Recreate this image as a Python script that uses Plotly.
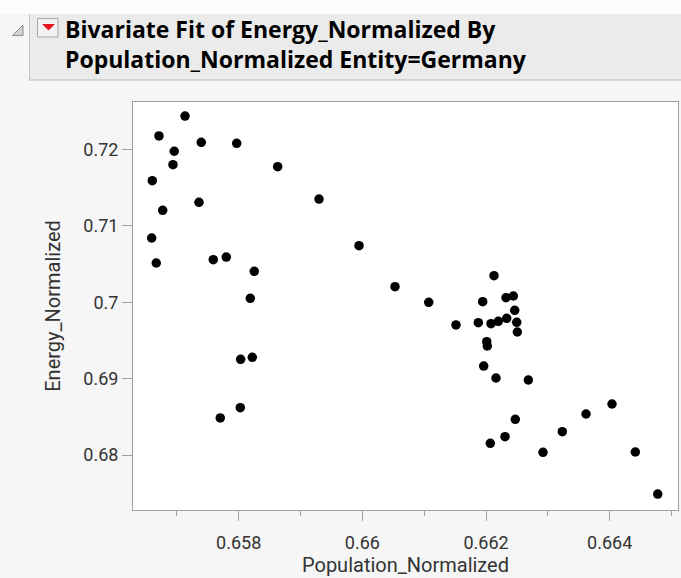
import plotly.graph_objects as go

# ---- data ----
population_normalized = [
    0.657132, 0.656711, 0.657395, 0.657968, 0.656958, 0.656937, 0.658631, 0.656603,
    0.657358, 0.659299, 0.656771, 0.656593, 0.659946, 0.656667, 0.657589, 0.657799,
    0.658252, 0.660528, 0.658188, 0.658032, 0.658220, 0.658026, 0.657702, 0.662129,
    0.661073, 0.661946, 0.662323, 0.662441, 0.662464, 0.661514, 0.661875, 0.662080,
    0.662198, 0.662334, 0.662496, 0.662506, 0.662011, 0.662020, 0.661962, 0.662161,
    0.662684, 0.664037, 0.663617, 0.662473, 0.663233, 0.662307, 0.662069, 0.662921,
    0.664414, 0.664776,
]
energy_normalized = [
    0.72436, 0.72175, 0.72092, 0.72079, 0.71975, 0.71799, 0.71773, 0.71590,
    0.71307, 0.71350, 0.71202, 0.70840, 0.70739, 0.70513, 0.70556, 0.70591,
    0.70404, 0.70203, 0.70051, 0.69253, 0.69279, 0.68620, 0.68485, 0.70347,
    0.69999, 0.70007, 0.70059, 0.70081, 0.69894, 0.69702, 0.69732, 0.69719,
    0.69750, 0.69789, 0.69737, 0.69610, 0.69483, 0.69427, 0.69165, 0.69008,
    0.68982, 0.68668, 0.68537, 0.68468, 0.68306, 0.68240, 0.68154, 0.68036,
    0.68040, 0.67490,
]
x_ticks = [0.658, 0.66, 0.662, 0.664]
x_tick_labels = ["0.658", "0.66", "0.662", "0.664"]
y_ticks = [0.68, 0.69, 0.70, 0.71, 0.72]
y_tick_labels = ["0.68", "0.69", "0.7", "0.71", "0.72"]
title_line1 = "Bivariate Fit of Energy_Normalized By"
title_line2 = "Population_Normalized Entity=Germany"

W, H = 681, 578
L, R, T, B = 133, 3, 102, 68
PW, PH = W - L - R, H - T - B


def px(xp):
    return (xp - L) / PW


def py(yp):
    return (H - B - yp) / PH


fig = go.Figure()
fig.add_trace(go.Scatter(
    x=population_normalized, y=energy_normalized, mode="markers",
    marker=dict(color="black", size=9.5, line=dict(width=0)),
    hoverinfo="x+y", showlegend=False,
))

tickfont = dict(family="Roboto, Arial, sans-serif", size=18, color="#333333")
titlefont = dict(family="Roboto, Arial, sans-serif", size=20, color="#333333")

fig.update_xaxes(
    range=[0.656291, 0.665104], tickvals=x_ticks, ticktext=x_tick_labels,
    ticks="outside", ticklen=10, tickcolor="#a0a0a0", tickwidth=1,
    ticklabelstandoff=6,
    minor=dict(ticks="outside", ticklen=5, tickcolor="#a0a0a0", dtick=0.001, tick0=0.657, showgrid=False),
    showline=True, linecolor="#a0a0a0", linewidth=1, mirror=True,
    showgrid=False, zeroline=False, tickfont=tickfont,
    title=dict(text="Population_Normalized", font=titlefont, standoff=4),
)
fig.update_yaxes(
    range=[0.672810, 0.726196], tickvals=y_ticks, ticktext=y_tick_labels,
    ticks="outside", ticklen=10, tickcolor="#a0a0a0", tickwidth=1,
    showline=True, linecolor="#a0a0a0", linewidth=1, mirror=True,
    showgrid=False, zeroline=False, tickfont=tickfont,
    title=dict(text="Energy_Normalized", font=titlefont, standoff=17),
)

shapes = []
# white strip above header
shapes.append(dict(type="rect", xref="paper", yref="paper", x0=px(0), x1=px(W), y0=py(0), y1=py(14),
                   fillcolor="#fcfcfc", line=dict(width=0), layer="below"))
# header box
shapes.append(dict(type="rect", xref="paper", yref="paper", x0=px(29), x1=px(W + 2), y0=py(14), y1=py(80),
                   fillcolor="#ebebeb", line=dict(width=0), layer="below"))
shapes.append(dict(type="line", xref="paper", yref="paper", x0=px(29.5), x1=px(29.5), y0=py(14), y1=py(80),
                   line=dict(color="#c4c4c4", width=1)))
shapes.append(dict(type="line", xref="paper", yref="paper", x0=px(29), x1=px(W + 2), y0=py(80), y1=py(80),
                   line=dict(color="#c8c8c8", width=1.5)))
# disclosure triangle
shapes.append(dict(type="path", xref="paper", yref="paper",
                   path=f"M {px(12.5)},{py(35.5)} L {px(23)},{py(35.5)} L {px(23)},{py(25)} Z",
                   fillcolor="#d4d4d4", line=dict(color="#8c8c8c", width=1)))
# red menu button
shapes.append(dict(type="rect", xref="paper", yref="paper", x0=px(37.5), x1=px(58), y0=py(18.5), y1=py(37),
                   fillcolor="#f2f2f2", line=dict(color="#a8a8a8", width=1)))
shapes.append(dict(type="path", xref="paper", yref="paper",
                   path=f"M {px(43)},{py(24.5)} L {px(54)},{py(24.5)} L {px(48.5)},{py(30)} Z",
                   fillcolor="#e3141e", line=dict(color="#e3141e", width=1)))

annotations = [
    dict(text=f"<b>{title_line1}</b>", xref="paper", yref="paper", x=px(63), y=py(29),
         xanchor="left", yanchor="middle", showarrow=False,
         font=dict(family="Open Sans, Roboto, Arial, sans-serif", size=23, color="black")),
    dict(text=f"<b>{title_line2}</b>", xref="paper", yref="paper", x=px(63), y=py(59),
         xanchor="left", yanchor="middle", showarrow=False,
         font=dict(family="Open Sans, Roboto, Arial, sans-serif", size=23, color="black")),
]

fig.update_layout(
    width=W, height=H, margin=dict(l=L, r=R, t=T, b=B, pad=0),
    paper_bgcolor="#f6f6f6", plot_bgcolor="white",
    shapes=shapes, annotations=annotations, showlegend=False,
)

fig.write_html(
    "out.html",
    config={"displayModeBar": False},
    post_script="document.body.style.margin='0';document.body.style.overflow='hidden';",
)
